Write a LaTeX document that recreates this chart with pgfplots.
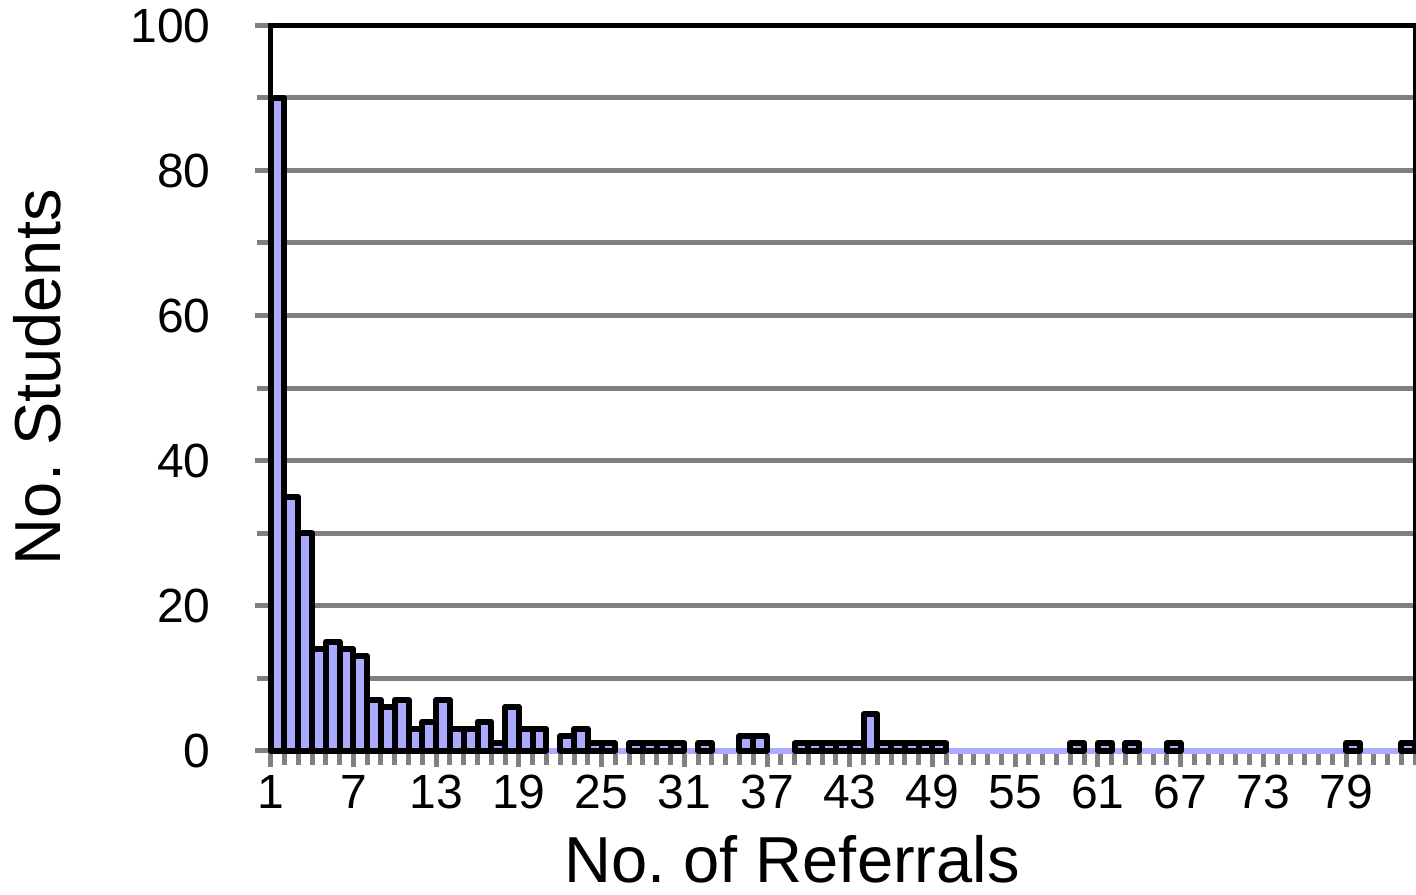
\documentclass[border=0pt]{standalone}
\usepackage{pgfplots}
\pgfplotsset{compat=1.18}
\usepackage{pgfplotstable}
\usepackage{fontspec}
\setmainfont{Liberation Sans}
\frenchspacing
\definecolor{lav}{RGB}{170,170,255}
\definecolor{gridgray}{RGB}{128,128,128}

\pgfplotstableread{
cat count
1 90
2 35
3 30
4 14
5 15
6 14
7 13
8 7
9 6
10 7
11 3
12 4
13 7
14 3
15 3
16 4
17 1
18 6
19 3
20 3
21 0
22 2
23 3
24 1
25 1
26 0
27 1
28 1
29 1
30 1
31 0
32 1
33 0
34 0
35 2
36 2
37 0
38 0
39 1
40 1
41 1
42 1
43 1
44 5
45 1
46 1
47 1
48 1
49 1
50 0
51 0
52 0
53 0
54 0
55 0
56 0
57 0
58 0
59 1
60 0
61 1
62 0
63 1
64 0
65 0
66 1
67 0
68 0
69 0
70 0
71 0
72 0
73 0
74 0
75 0
76 0
77 0
78 0
79 1
80 0
81 0
82 0
83 1
}\refdata

\begin{document}
\begin{tikzpicture}
\begin{axis}[
  name=ax,
  scale only axis,
  width=572.15bp, height=362.5bp,
  xmin=0.5, xmax=83.5, ymin=0, ymax=100,
  axis line style={draw=none},
  clip=false,
  tick align=outside,
  tick pos=left,
  xtick={0.5,6.5,...,78.5},
  xticklabels={1,7,13,19,25,31,37,43,49,55,61,67,73,79},
  minor xtick={0.5,1.5,...,83.5},
  ytick={0,20,...,100},
  minor ytick={10,30,...,90},
  ymajorgrids, yminorgrids,
  major grid style={gridgray, line width=2.5bp},
  minor grid style={gridgray, line width=2.5bp},
  major tick length=8bp, minor tick length=7bp,
  every tick/.style={gridgray, line width=2.5bp},
  /pgf/number format/assume math mode=true,
  tick label style={font=\fontsize{24bp}{28bp}\selectfont, inner sep=0pt},
  yticklabel style={anchor=east, xshift=-21.85bp},
  xticklabel style={anchor=north, yshift=-4.25bp},
  xlabel={No. of Referrals}, ylabel={No. Students},
  label style={font=\fontsize{32.5bp}{38bp}\selectfont, inner sep=0pt},
  xlabel style={at={(axis description cs:0.4556,-0.182)}, anchor=base},
  ylabel style={at={(axis description cs:-0.1841,0.515)}, anchor=base},
]
\addplot[lav, line width=3bp, forget plot] coordinates {(0.5,0) (83.5,0)};
\addplot[ybar, bar width=1, fill=lav, draw=black, line width=3bp,
  line join=round, restrict y to domain=0.5:100, unbounded coords=discard]
  table[x=cat, y=count] {\refdata};
\draw[black, line width=2.5bp, line join=miter] (rel axis cs:0,0) -- (rel axis cs:0,1) -- (rel axis cs:1,1) -- (rel axis cs:1,0);
\end{axis}
\pgfresetboundingbox
\path[use as bounding box] ([xshift=-135.35bp,yshift=-71.75bp]ax.south west) rectangle ([xshift=0.5bp,yshift=12.75bp]ax.north east);
\end{tikzpicture}
\end{document}
